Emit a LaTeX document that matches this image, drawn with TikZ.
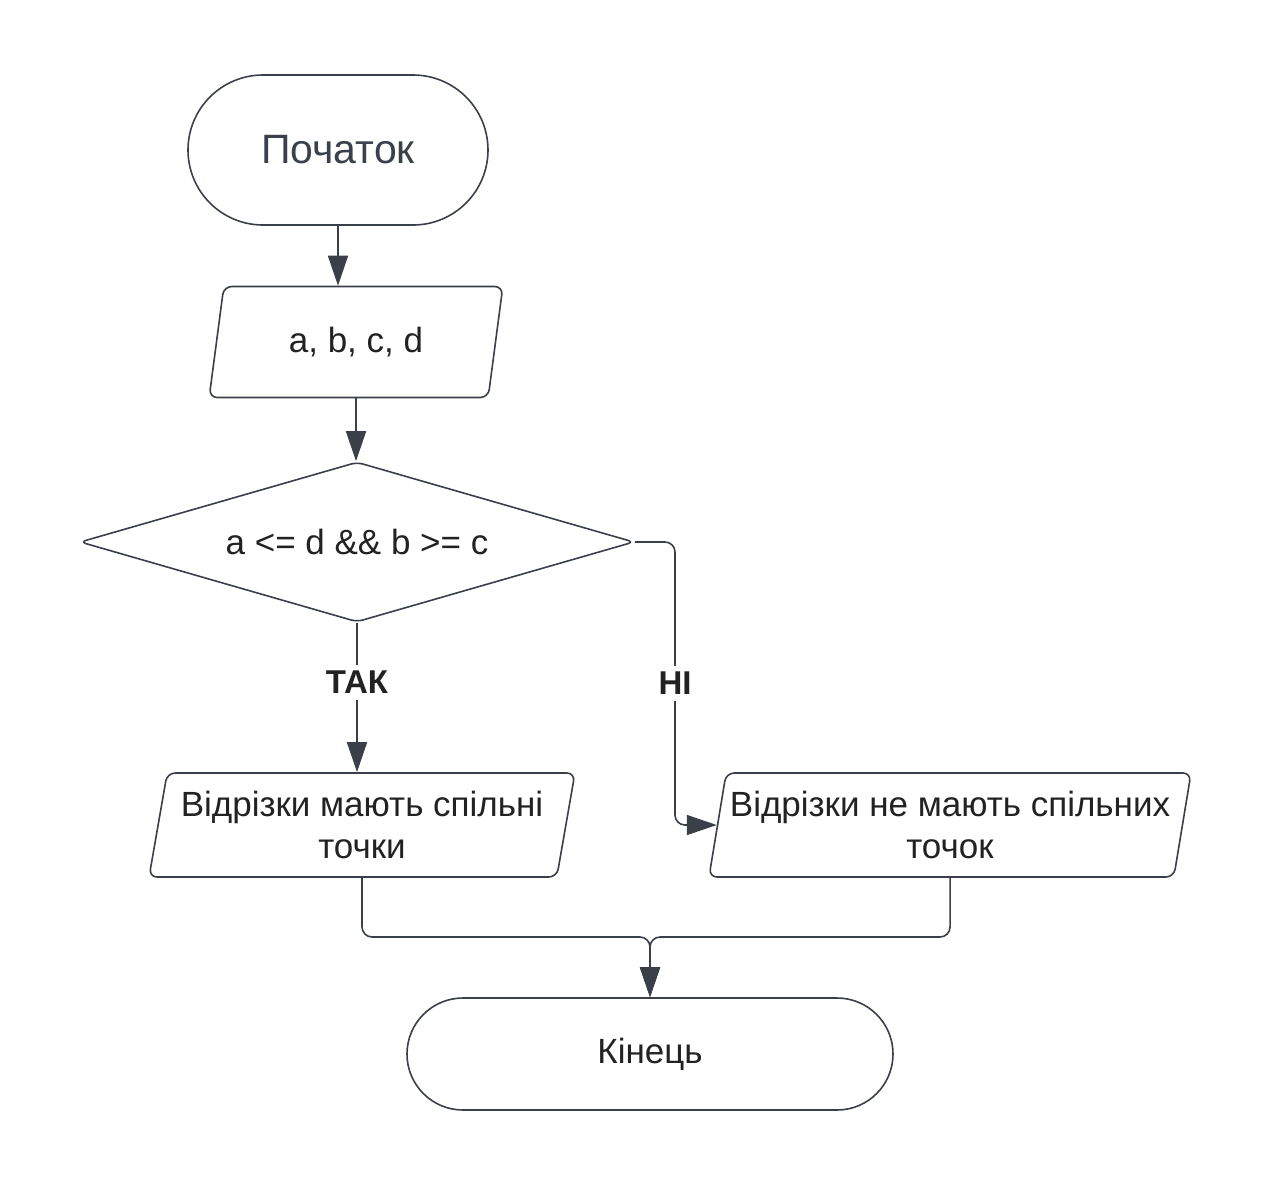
\documentclass[tikz,border=0pt]{standalone}
\usepackage{fontspec}
\setmainfont{Liberation Sans}
\usetikzlibrary{shapes.geometric, shapes.misc, arrows.meta}

\definecolor{linegray}{HTML}{3A3F4A}
\definecolor{textdark}{HTML}{222222}
\definecolor{startgray}{HTML}{3B414B}

\begin{document}
\begin{tikzpicture}[x=1pt, y=-1pt,
        terminal/.style={draw=linegray, line width=1.6pt, rounded rectangle, inner sep=0pt},
        iobox/.style={draw=linegray, line width=1.6pt, trapezium, trapezium left angle=76,
            trapezium right angle=104, trapezium stretches=true, rounded corners=8pt,
            inner sep=0pt, align=center, text=textdark, font=\fontsize{35}{42}\selectfont},
        decision/.style={draw=linegray, line width=1.6pt, diamond, aspect=3.46, rounded corners=6pt,
            inner sep=0pt, text=textdark, font=\fontsize{35}{40}\selectfont},
        flow/.style={draw=linegray, line width=1.6pt, -{Triangle[length=30pt, width=20pt]}},
        answer/.style={fill=white, text=textdark, font=\bfseries\fontsize{33}{36}\selectfont, inner sep=6pt}]
        \useasboundingbox (0,0) rectangle (1269,1187);

        % blocks
        \node[terminal, minimum width=300pt, minimum height=150pt, text=startgray,
            font=\fontsize{41}{48}\selectfont] (start) at (338,150) {Початок};
        \node[iobox, minimum width=294pt, minimum height=111pt] (inp) at (356,342) {a, b, c, d};
        \node[decision, minimum width=554pt, minimum height=160pt] (dec) at (357,542) {a <= d \&\& b >= c};
        \node[iobox, minimum width=427pt, minimum height=104pt] (yes) at (362,825) {Відрізки мають спільні\\точки};
        \node[iobox, minimum width=483pt, minimum height=104pt] (no) at (950,825) {Відрізки не мають спільних\\точок};
        \node[terminal, minimum width=486pt, minimum height=112pt, text=textdark,
            font=\fontsize{35}{40}\selectfont] (stop) at (650,1054) {Кінець};

        \coordinate (noX) at (675,0);
        \coordinate (joinY) at (0,937);

        % connectors
        \draw[flow] (start.south) -- (start.south |- inp.north);
        \draw[flow] (inp.south) -- (inp.south |- dec.north);
        \draw[flow] (dec.south) -- node[answer, pos=0.4] {ТАК} (dec.south |- yes.north);
        \draw[flow, rounded corners=10pt] (dec.east) -- (dec.east -| noX)
            -- node[answer] {НІ} (noX |- no.west) -- (no.west);
        \draw[flow, rounded corners=10pt] (yes.south) -- (yes.south |- joinY) -| (stop.north);
        \draw[flow, rounded corners=10pt] (no.south) -- (no.south |- joinY) -| (stop.north);
    \end{tikzpicture}
\end{document}
